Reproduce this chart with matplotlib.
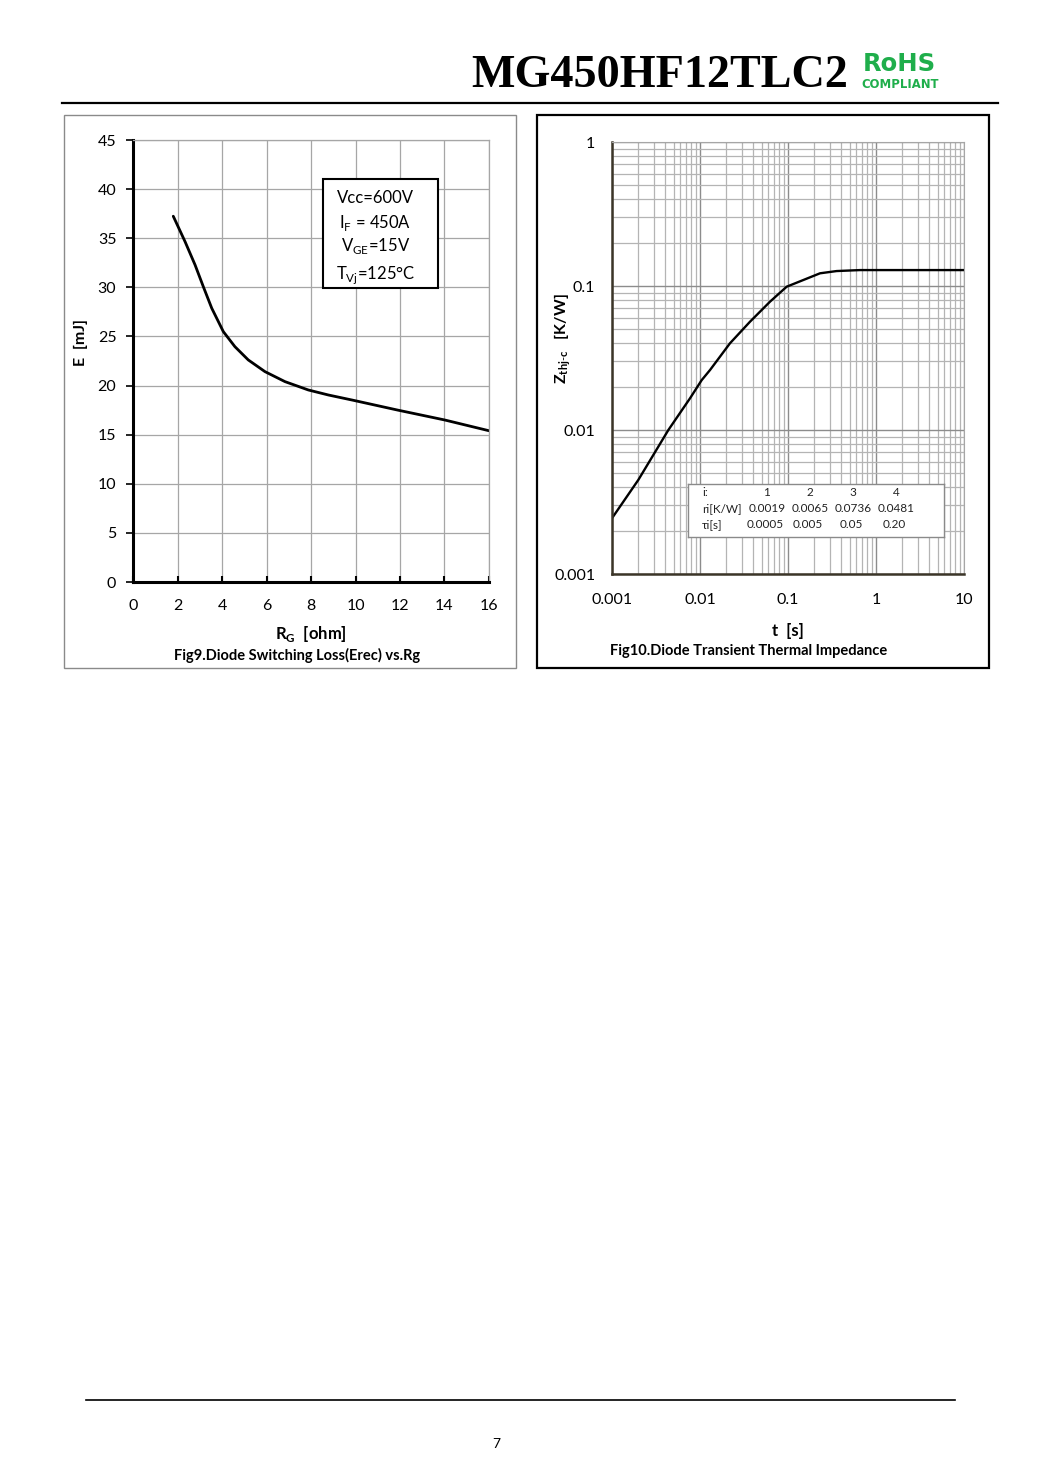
#!/usr/bin/env python3

import numpy as np
import matplotlib
matplotlib.use("Agg")
import matplotlib.pyplot as plt
from matplotlib.patches import Rectangle
from matplotlib.ticker import LogLocator, NullFormatter, FixedLocator

plt.rcParams["font.family"] = ["Lato", "DejaVu Sans"]
plt.rcParams["mathtext.fontset"] = "custom"
plt.rcParams["mathtext.rm"] = "Lato"

# Fig9: diode switching loss vs gate resistance
rg = [1.81, 2.34, 2.79, 3.16, 3.54, 4.06, 4.58, 5.18, 5.93, 6.83, 7.88, 8.78,
      9.9, 11.9, 14.0, 16.0]
erec = [37.24, 34.65, 32.28, 30.07, 27.87, 25.49, 23.96, 22.61, 21.42, 20.40,
        19.55, 19.04, 18.5, 17.5, 16.5, 15.4]
rg_ticks = [0, 2, 4, 6, 8, 10, 12, 14, 16]
e_ticks = [0, 5, 10, 15, 20, 25, 30, 35, 40, 45]
conditions = ["Vcc=600V", r"I$_{\mathregular{F}}$ = 450A",
              r"V$_{\mathregular{GE}}$=15V", r"T$_{\mathregular{Vj}}$=125°C"]

# Fig10: diode transient thermal impedance
t_s = [0.001, 0.00199, 0.00437, 0.0077, 0.01045, 0.013, 0.0219, 0.037, 0.0624,
       0.0966, 0.149, 0.231, 0.357, 0.658, 10.0]
zth = [0.00244, 0.0045, 0.010, 0.0166, 0.0222, 0.0261, 0.040, 0.0565, 0.0778,
       0.0989, 0.110, 0.1225, 0.127, 0.129, 0.129]
t_ticks = [0.001, 0.01, 0.1, 1, 10]
t_labels = ["0.001", "0.01", "0.1", "1", "10"]
z_ticks = [0.001, 0.01, 0.1, 1]
z_labels = ["0.001", "0.01", "0.1", "1"]
tbl_i = ["1", "2", "3", "4"]
tbl_r = ["0.0019", "0.0065", "0.0736", "0.0481"]
tbl_tau = ["0.0005", "0.005", "0.05", "0.20"]

W, H = 1060, 1484
fig = plt.figure(figsize=(W / 100, H / 100), dpi=100)


def rect(x0, y0, x1, y1):
    return [x0 / W, 1 - y1 / H, (x1 - x0) / W, (y1 - y0) / H]


def ftext(x, y, s, **kw):
    fig.text(x / W, 1 - y / H, s, **kw)


def fline(x0, x1, y, lw):
    fig.add_artist(plt.Line2D([x0 / W, x1 / W], [1 - y / H, 1 - y / H],
                              color="black", lw=lw, transform=fig.transFigure))


def fbox(x0, y0, x1, y1, color, lw):
    fig.add_artist(Rectangle((x0 / W, 1 - y1 / H), (x1 - x0) / W, (y1 - y0) / H,
                             fill=False, edgecolor=color, lw=lw,
                             transform=fig.transFigure))


# header
ftext(660, 76, "MG450HF12TLC2", family="Liberation Serif", weight="bold",
      fontsize=33.2, ha="center", va="center")
ftext(899, 64, "RoHS", family="DejaVu Sans", weight="heavy", fontsize=17.5,
      color="#1fae4b", ha="center", va="center")
ftext(900, 85, "COMPLIANT", family="DejaVu Sans", weight="heavy", fontsize=8.4,
      color="#1fae4b", ha="center", va="center")
fline(62, 998, 103, 1.6)
fline(86, 955, 1400, 1.2)
ftext(496, 1444, "7", fontsize=10, ha="center", va="center")

# panel frames
fbox(64, 115, 516, 668, "#8a8a8a", 1.0)
fbox(537, 115, 989, 668, "black", 1.6)

# ---- Fig9 ----
ax1 = fig.add_axes(rect(133, 140, 489, 582))
ax1.plot(rg, erec, color="black", lw=2.0, solid_capstyle="round",
         solid_joinstyle="round")
ax1.set(xlim=(0, 16), ylim=(0, 45))
ax1.set_xticks(rg_ticks)
ax1.set_yticks(e_ticks)
ax1.grid(True, color="#a6a6a6", lw=0.9)
for s in ["top", "right"]:
    ax1.spines[s].set_color("#a6a6a6")
    ax1.spines[s].set_linewidth(0.9)
for s in ["left", "bottom"]:
    ax1.spines[s].set_linewidth(2.2)
ax1.tick_params(axis="y", direction="out", length=5, width=1.2, labelsize=11.5, pad=7)
ax1.tick_params(axis="x", direction="in", length=4, width=1.5, labelsize=11.5, pad=12)
ax1.set_axisbelow(True)
ax1.set_ylabel("E  [mJ]", fontsize=11.5, weight="bold", va="center")
ax1.yaxis.set_label_coords((81 - 133) / 356, (582 - 342) / 442)
ax1.set_xlabel(r"R$_{\mathregular{G}}$  [ohm]", fontsize=12, weight="bold", labelpad=8)
ax1.add_patch(Rectangle((8.54, 29.94), 5.17, 11.1, facecolor="white",
                        edgecolor="black", lw=1.5, zorder=3))
for s, yv in zip(conditions, [39.1, 36.6, 34.2, 31.3]):
    ax1.text(10.9, yv, s, fontsize=12, ha="center", va="center", zorder=4)
ftext(297, 655, "Fig9.Diode Switching Loss(Erec) vs.Rg", fontsize=10.5,
      weight="bold", ha="center", va="center")

# ---- Fig10 ----
ax2 = fig.add_axes(rect(612, 142, 964, 574))
ax2.plot(t_s, zth, color="black", lw=1.7, solid_joinstyle="round")
ax2.set_xscale("log")
ax2.set_yscale("log")
ax2.set(xlim=(0.001, 10), ylim=(0.001, 1))
ax2.xaxis.set_major_locator(FixedLocator(t_ticks))
ax2.yaxis.set_major_locator(FixedLocator(z_ticks))
ax2.set_xticklabels(t_labels)
ax2.set_yticklabels(z_labels)
ax2.xaxis.set_minor_locator(LogLocator(base=10, subs=np.arange(2, 10)))
ax2.yaxis.set_minor_locator(LogLocator(base=10, subs=np.arange(2, 10)))
ax2.xaxis.set_minor_formatter(NullFormatter())
ax2.yaxis.set_minor_formatter(NullFormatter())
ax2.grid(True, which="major", color="#8c8c8c", lw=1.0)
ax2.grid(True, which="minor", color="#b4b4b4", lw=0.9)
ax2.set_axisbelow(True)
ax2.tick_params(which="both", length=0, labelsize=11.5)
ax2.tick_params(axis="y", pad=12)
ax2.tick_params(axis="x", pad=14)
for s in ["top", "right"]:
    ax2.spines[s].set_color("#a6a6a6")
for s in ["left", "bottom"]:
    ax2.spines[s].set_color("#3b3528")
    ax2.spines[s].set_linewidth(1.8)
ax2.set_xlabel("t  [s]", fontsize=12, weight="bold", labelpad=11)
ax2.set_ylabel(r"Z$_{\mathregular{thj\text{-}c}}$   [K/W]", fontsize=11.5,
               weight="bold", va="center")
ax2.yaxis.set_label_coords((563 - 612) / 352, (574 - 339) / 432)
ftext(749, 651, "Fig10.Diode Transient Thermal Impedance", fontsize=10.5,
      weight="bold", ha="center", va="center")

# parameter table
tb = fig.add_axes(rect(688, 484, 944, 537))
tb.set_xlim(688, 944)
tb.set_ylim(537, 484)
tb.set_xticks([])
tb.set_yticks([])
for s in tb.spines.values():
    s.set_color("#8a8a8a")
    s.set_linewidth(1.0)
tsz = 8.5
tc = "#222222"
tb.text(702, 493, "i:", fontsize=tsz, color=tc, va="center")
tb.text(702, 509, "ri[K/W]", fontsize=tsz, color=tc, va="center")
tb.text(702, 525, "τi[s]", fontsize=tsz, color=tc, va="center")
for xc, a, b, c in zip([767, 810, 853, 896], tbl_i, tbl_r, tbl_tau):
    tb.text(xc, 493, a, fontsize=tsz, color=tc, ha="center", va="center")
    tb.text(xc, 509, b, fontsize=tsz, color=tc, ha="center", va="center")
    tb.text(xc - 2, 525, c, fontsize=tsz, color=tc, ha="center", va="center")

fig.savefig("out.png", dpi=100)
